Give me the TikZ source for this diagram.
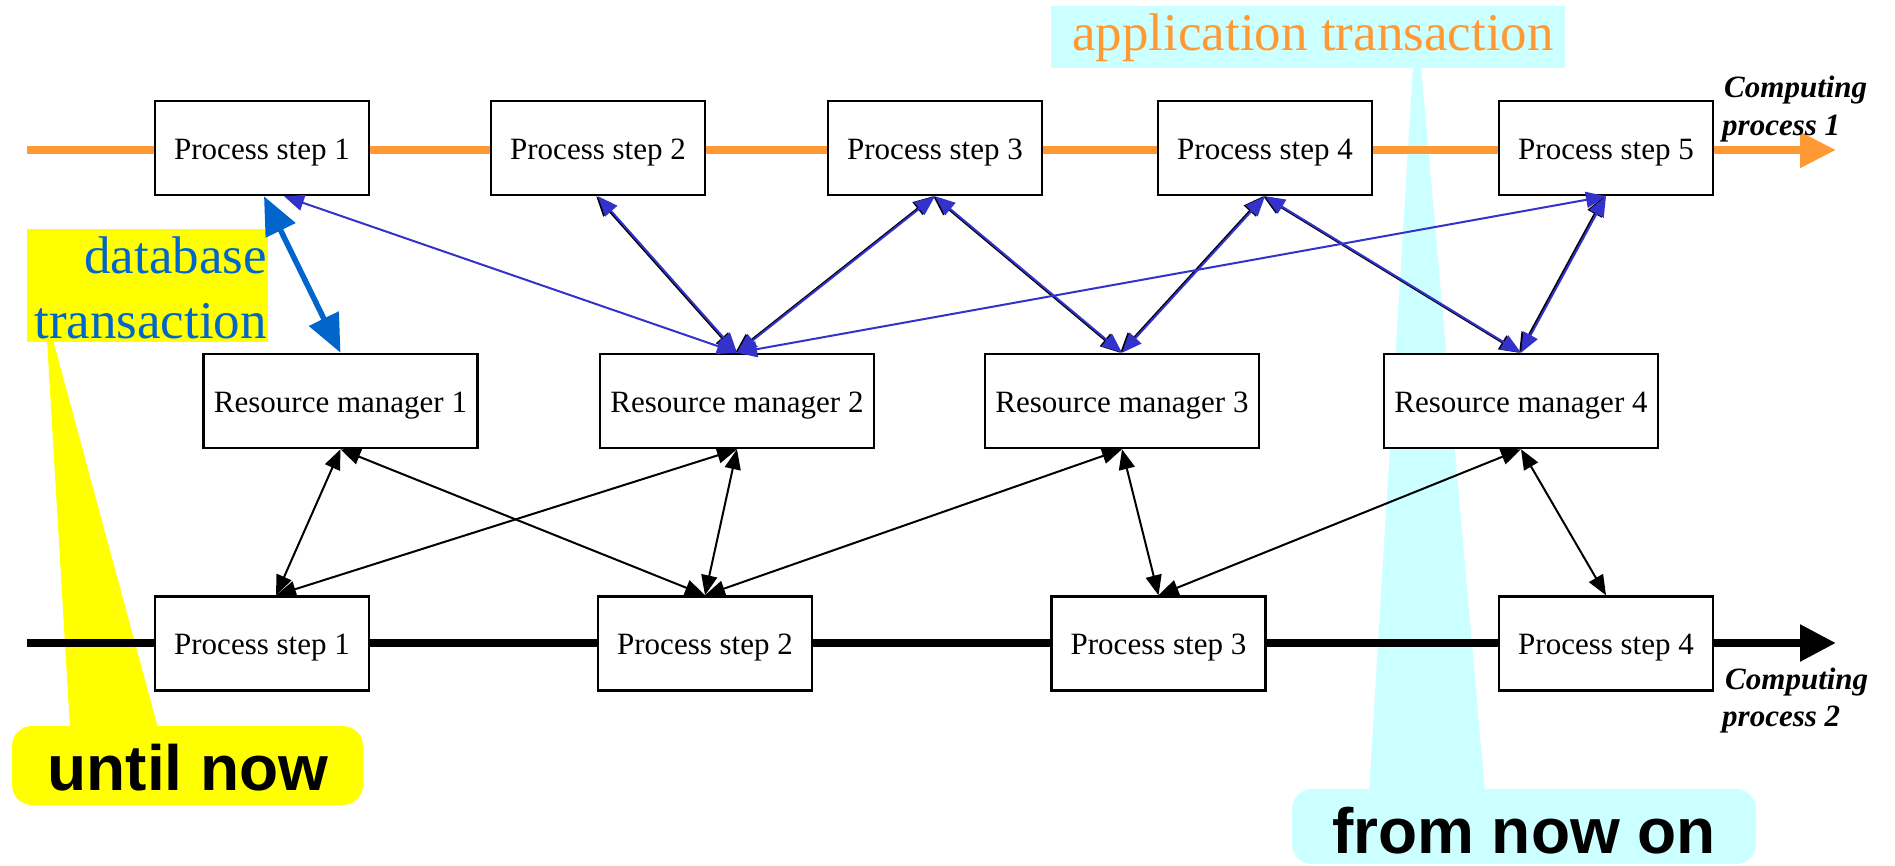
\documentclass[tikz,border=0pt]{standalone}
\usepackage{fontspec}
\setmainfont{Liberation Serif}
\newfontfamily\labelsans{Liberation Sans}
\usetikzlibrary{arrows.meta}
\definecolor{procorange}{HTML}{FF9933}
\definecolor{arrowblue}{HTML}{3333CC}
\definecolor{dbblue}{HTML}{0066CC}
\definecolor{calloutcyan}{HTML}{CCFFFF}
\definecolor{calloutyellow}{HTML}{FFFF00}
\tikzset{
  box/.style={draw=black, line width=2.5pt, fill=white, inner sep=0pt,
    minimum height=94pt, text height=25pt, text depth=3pt,
    font=\fontsize{31}{37}\selectfont},
  psbox/.style={box, minimum width=214pt},
  rmbox/.style={box, minimum width=274pt},
  bluearrow/.style={draw=arrowblue, line width=2pt,
    {Triangle[length=20pt,width=16pt]}-{Triangle[length=20pt,width=16pt]}},
  blackarrow/.style={draw=black, line width=2pt,
    {Triangle[length=20pt,width=16pt]}-{Triangle[length=20pt,width=16pt]}},
  shadowarrow/.style={blackarrow, transform canvas={xshift=-1.8pt}},
  dbarrow/.style={draw=dbblue, line width=5.5pt,
    {Triangle[length=38pt,width=32pt]}-{Triangle[length=38pt,width=32pt]}},
  orangeline/.style={draw=procorange, line width=8pt, -{Triangle[length=36pt,width=34pt]}},
  blackline/.style={draw=black, line width=8.5pt, -{Triangle[length=36pt,width=35pt]}},
  proclabel/.style={inner sep=0pt, anchor=base west, font=\bfseries\itshape\fontsize{31}{37}\selectfont},
  biglabel/.style={inner sep=0pt, font=\fontsize{53}{65}\selectfont},
  calloutlabel/.style={inner sep=0pt, anchor=base, font=\labelsans\bfseries\fontsize{64}{76}\selectfont}
}
\begin{document}
\begin{tikzpicture}[x=1pt, y=-1pt]
\useasboundingbox (0,0) rectangle (1895,865);
\fill[white] (0,0) rectangle (1895,865);

% callouts (background)
\fill[calloutyellow] (47,340) -- (53,340) -- (158,728) -- (70,728) -- cycle;
\fill[calloutyellow, rounded corners=20pt] (12,726) rectangle (363,805);
\fill[calloutyellow] (27,229) rectangle (268,342);
\fill[calloutcyan] (1413,66) -- (1421,66) -- (1485,792) -- (1369,792) -- cycle;
\fill[calloutcyan, rounded corners=20pt] (1292,789) rectangle (1756,864);
\fill[calloutcyan] (1051,6) rectangle (1565,68);

\node[biglabel, anchor=base, text=procorange] (apptx) at (1313,50) {application transaction};
\node[biglabel, anchor=base east, text=dbblue] (dbtx1) at (267,273) {database};
\node[biglabel, anchor=base east, text=dbblue] (dbtx2) at (267,338) {transaction};
\node[calloutlabel] (until) at (188,790) {until now};
\node[calloutlabel] (fromnow) at (1524,853) {from now on};

% computing processes
\coordinate (o1) at (27,150);
\coordinate (o2) at (1836,150);
\coordinate (k1) at (27,643);
\coordinate (k2) at (1836,643);
\draw[orangeline] (o1) -- (o2);
\draw[blackline] (k1) -- (k2);

\node[proclabel] (cp1a) at (1724,97) {Computing};
\node[proclabel] (cp1b) at (1722,135) {process 1};
\node[proclabel] (cp2a) at (1725,689) {Computing};
\node[proclabel] (cp2b) at (1722,726) {process 2};

% boxes
\node[psbox] (t1) at (262,148) {Process step 1};
\node[psbox] (t2) at (598,148) {Process step 2};
\node[psbox] (t3) at (935,148) {Process step 3};
\node[psbox] (t4) at (1265,148) {Process step 4};
\node[psbox] (t5) at (1606,148) {Process step 5};

\node[rmbox] (r1) at (340.5,401) {Resource manager 1};
\node[rmbox] (r2) at (737,401) {Resource manager 2};
\node[rmbox] (r3) at (1122,401) {Resource manager 3};
\node[rmbox] (r4) at (1521,401) {Resource manager 4};

\node[psbox] (b1) at (262,643.5) {Process step 1};
\node[psbox] (b2) at (705,643.5) {Process step 2};
\node[psbox] (b3) at (1158.5,643.5) {Process step 3};
\node[psbox] (b4) at (1606,643.5) {Process step 4};

% black shadows under blue arrows
\draw[shadowarrow] (t2.south) -- (r2.north);
\draw[shadowarrow] (t3.south) -- (r2.north);
\draw[shadowarrow] (t3.south) -- (r3.north);
\draw[shadowarrow] (t4.south) -- (r3.north);
\draw[shadowarrow] (t4.south) -- (r4.north);
\draw[shadowarrow] (t5.south) -- (r4.north);

% blue arrows (computing process 1)
\draw[bluearrow] ([xshift=22pt]t1.south) -- (r2.north);
\draw[bluearrow] (t2.south) -- (r2.north);
\draw[bluearrow] (t3.south) -- (r2.north);
\draw[bluearrow] (t3.south) -- (r3.north);
\draw[bluearrow] (t4.south) -- (r3.north);
\draw[bluearrow] (t4.south) -- (r4.north);
\draw[bluearrow] (t5.south) -- (r2.north);
\draw[bluearrow] (t5.south) -- (r4.north);

% database transaction arrow
\draw[dbarrow] ([xshift=2pt]t1.south) -- (r1.north);

% black arrows (computing process 2)
\draw[blackarrow] (r1.south) -- ([xshift=14pt]b1.north);
\draw[blackarrow] (r1.south) -- (b2.north);
\draw[blackarrow] (r2.south) -- ([xshift=14pt]b1.north);
\draw[blackarrow] (r2.south) -- (b2.north);
\draw[blackarrow] (r3.south) -- (b2.north);
\draw[blackarrow] (r3.south) -- (b3.north);
\draw[blackarrow] (r4.south) -- (b3.north);
\draw[blackarrow] (r4.south) -- (b4.north);
\end{tikzpicture}
\end{document}
